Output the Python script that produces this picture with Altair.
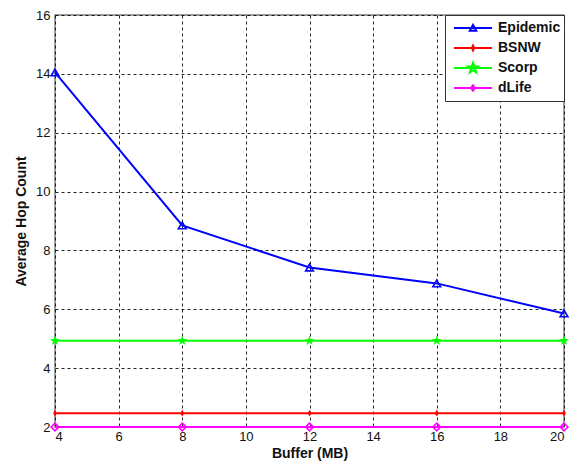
import altair as alt
import pandas as pd

buffer_mb = [4, 8, 12, 16, 20]
series_names = ["Epidemic", "BSNW", "Scorp", "dLife"]
epidemic = [14.05, 8.85, 7.42, 6.88, 5.86]
bsnw = [2.47, 2.47, 2.47, 2.47, 2.47]
scorp = [4.93, 4.93, 4.93, 4.93, 4.93]
dlife = [2.0, 2.0, 2.0, 2.0, 2.0]
colors = ["#0000ff", "#ff0000", "#00ff00", "#ff00ff"]
x_ticks = [4, 6, 8, 10, 12, 14, 16, 18, 20]
y_ticks = [2, 4, 6, 8, 10, 12, 14, 16]

values = {"Epidemic": epidemic, "BSNW": bsnw, "Scorp": scorp, "dLife": dlife}
rows = []
for name in series_names:
    for b, v in zip(buffer_mb, values[name]):
        rows.append({"buffer": b, "hops": v, "series": name})
df = pd.DataFrame(rows)

STAR_PTS = [(0, -1), (0.235, -0.324), (0.951, -0.309), (0.380, 0.124), (0.588, 0.809),
            (0, 0.4), (-0.588, 0.809), (-0.380, 0.124), (-0.951, -0.309), (-0.235, -0.324)]


def star_path(s):
    return "M" + "L".join(f"{x*s:.3f},{y*s:.3f}" for x, y in STAR_PTS) + "Z"


marker_style = {
    "Epidemic": dict(shape="triangle-up", filled=False, size=60, strokeWidth=1.6),
    "BSNW": dict(shape="M0,-1L0.55,0L0,1L-0.55,0Z", filled=True, size=45, strokeWidth=1),
    "Scorp": dict(shape=star_path(1), filled=True, size=110, strokeWidth=1),
    "dLife": dict(shape="diamond", filled=False, size=60, strokeWidth=1.6),
}

legend_paths = [
    "M-1,0H1M-0.17,0.14L0,-0.17L0.17,0.14Z",
    "M-1,0H1M0,-0.13L0.06,0L0,0.13L-0.06,0Z",
    "M-1,0H1" + star_path(0.28),
    "M-1,0H1M0,-0.14L0.11,0L0,0.14L-0.11,0Z",
]

x_enc = alt.X("buffer:Q", scale=alt.Scale(domain=[4, 20], nice=False, zero=False),
              axis=alt.Axis(values=x_ticks, title="Buffer (MB)", format="d"))
y_enc = alt.Y("hops:Q", scale=alt.Scale(domain=[2, 16], nice=False, zero=False),
              axis=alt.Axis(values=y_ticks, title="Average Hop Count", format="d"))

layers = []
for name, col in zip(series_names, colors):
    sub = alt.Chart(df).transform_filter(alt.datum.series == name)
    layers.append(sub.mark_line(color=col, strokeWidth=2).encode(x=x_enc, y=y_enc))
    st = marker_style[name]
    layers.append(sub.mark_point(color=col, opacity=1, **st).encode(x=x_enc, y=y_enc))

legend_layer = alt.Chart(df).transform_filter("false").mark_point(
    filled=False, strokeWidth=2, opacity=1
).encode(
    x=x_enc, y=y_enc,
    color=alt.Color("series:N", scale=alt.Scale(domain=series_names, range=colors),
                    legend=alt.Legend(title=None)),
    shape=alt.Shape("series:N", scale=alt.Scale(domain=series_names, range=legend_paths),
                    legend=alt.Legend(title=None)),
)

chart = alt.layer(*layers, legend_layer).properties(
    width=509, height=412,
    padding={"left": 55, "top": 15, "right": 7, "bottom": 36},
    autosize=alt.AutoSizeParams(type="none"),
    background="white",
).configure_view(
    stroke="#808080", strokeWidth=1.5
).configure_axis(
    grid=True, gridColor="black", gridDash=[3, 3], gridOpacity=0.85, gridWidth=1,
    domain=False, ticks=False,
    labelFont="Liberation Sans", labelFontSize=13, labelColor="#111111",
    titleFont="Liberation Sans", titleFontSize=14, titleFontWeight="bold", titleColor="#111111",
).configure_axisX(
    labelPadding=3, titlePadding=3,
).configure_axisY(
    labelPadding=5, titlePadding=7,
).configure_legend(
    orient="top-right", offset=0, strokeColor="#333333", fillColor="white",
    padding=3, cornerRadius=0,
    labelFont="Liberation Sans", labelFontSize=14, labelFontWeight="bold", labelColor="#111111",
    symbolSize=1444, symbolStrokeWidth=2, clipHeight=20, rowPadding=0,
    labelOffset=5, symbolOffset=5,
)

chart.save("out.html", embed_options={"renderer": "svg", "actions": False})
